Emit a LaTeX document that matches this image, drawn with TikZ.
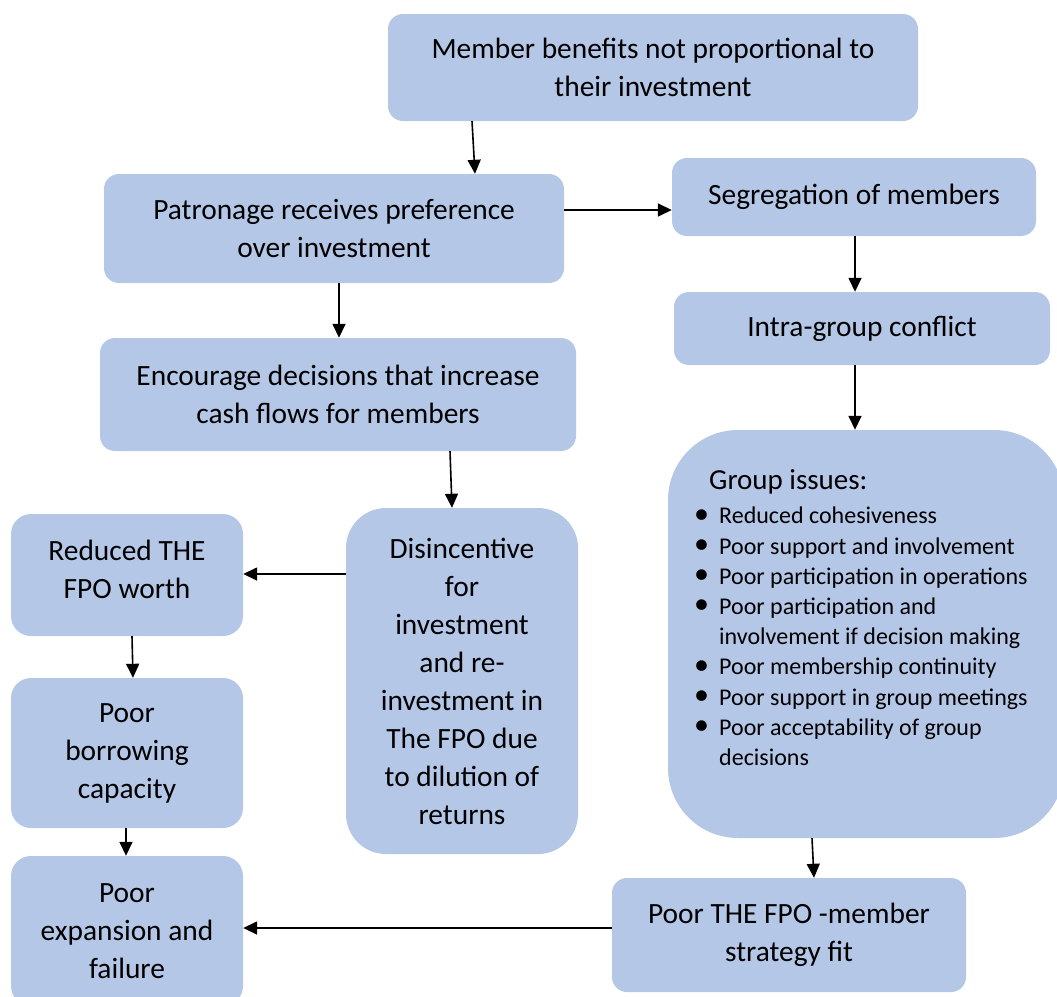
\documentclass[tikz,border=0pt]{standalone}
\usepackage{fontspec}
\setmainfont{Carlito}
\usetikzlibrary{arrows.meta}
\definecolor{boxblue}{HTML}{B4C7E7}
\tikzset{
  box/.style={fill=boxblue, draw=none, rounded corners=#1, inner sep=0pt,
    align=center, font=\fontsize{29.4}{38}\selectfont},
  box/.default=15pt,
  arr/.style={-{Triangle[length=14pt,width=13pt]}, line width=1.6pt},
}
\newcommand{\itembullet}{\makebox[25pt][l]{\raisebox{0.5pt}{\scalebox{1.25}{\textbullet}}}}
\begin{document}
\begin{tikzpicture}[x=1pt,y=-1pt]
\path[use as bounding box] (0,0) rectangle (1057,996);
\clip (0,0) rectangle (1057,996);

% boxes
\node[box, minimum width=530pt, minimum height=107pt] (top) at (653,67.5)
  {Member benefits not proportional to\\their investment};
\node[box, minimum width=460pt, minimum height=109pt] (pat) at (334,228.5)
  {Patronage receives preference\\over investment};
\node[box, minimum width=364pt, minimum height=78pt] (seg) at (854,197)
  {Segregation of members};
\node[box, minimum width=376pt, minimum height=73pt] (intra) at (862,328.5)
  {Intra-group conflict};
\node[box, minimum width=476pt, minimum height=113pt] (enc) at (338,394.5)
  {Encourage decisions that increase\\cash flows for members};
\node[box=70pt, minimum width=396pt, minimum height=408pt] (grp) at (866,634) {};
\node[box=20pt, minimum width=232pt, minimum height=122pt] (red) at (127,575) {};
\node[box=40pt, minimum width=232pt, minimum height=346pt] (dis) at (462,681)
  {Disincentive\\for\\investment\\and re-\\investment in\\The FPO due\\to dilution of\\returns};
\node[box=20pt, minimum width=232pt, minimum height=150pt] (bor) at (127,753)
  {Poor\\borrowing\\capacity};
\node[box=20pt, minimum width=232pt, minimum height=150pt] (exp) at (127,931)
  {Poor\\expansion and\\failure};
\node[box, minimum width=354pt, minimum height=114pt] (fit) at (789,935)
  {Poor THE FPO -member\\strategy fit};

% text of the upper left box, set a little above its centre
\node[inner sep=0pt, align=center, font=\fontsize{29.4}{38}\selectfont] (redt) at ([yshift=6pt]red.center)
  {Reduced THE\\FPO worth};

% group issues text
\node[anchor=base west, inner sep=0pt, font=\fontsize{29}{38}\selectfont] (gt) at (709,489)
  {Group issues:};
\node[anchor=north west, inner sep=0pt, align=left, font=\fontsize{24}{30.2}\selectfont] (gl) at (694,507)
  {\itembullet Reduced cohesiveness\\
   \itembullet Poor support and involvement\\
   \itembullet Poor participation in operations\\
   \itembullet Poor participation and\\
   \hspace*{25pt}involvement if decision making\\
   \itembullet Poor membership continuity\\
   \itembullet Poor support in group meetings\\
   \itembullet Poor acceptability of group\\
   \hspace*{25pt}decisions};

% connectors
\draw[arr] (top.south -| 472,0) -- (pat.north -| 475,0);
\draw[arr] (pat.east |- 0,210) -- (seg.west |- 0,210);
\draw[arr] (pat.south -| 339,0) -- (enc.north -| 339,0);
\draw[arr] (seg.south -| 855,0) -- (intra.north -| 855,0);
\draw[arr] (intra.south -| 855,0) -- (grp.north -| 855,0);
\draw[arr] (enc.south -| 450,0) -- (dis.north -| 452,0);
\draw[arr] (dis.west |- 0,574) -- (red.east |- 0,574);
\draw[arr] (red.south -| 132,0) -- (bor.north -| 133,0);
\draw[arr] (bor.south -| 126,0) -- (exp.north -| 126,0);
\draw[arr] (grp.south -| 812,0) -- (fit.north -| 814,0);
\draw[arr] (fit.west |- 0,928) -- (exp.east |- 0,928);
\end{tikzpicture}
\end{document}
